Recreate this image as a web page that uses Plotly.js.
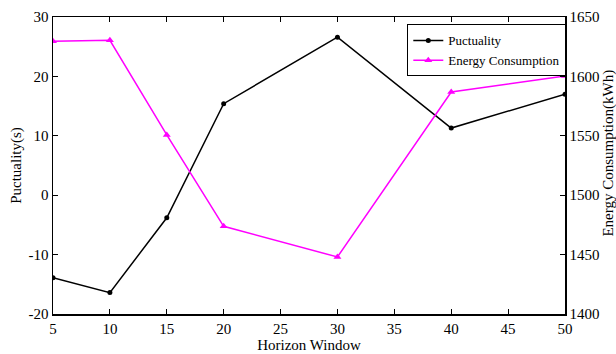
<!DOCTYPE html>
<html><head><meta charset="utf-8">
<script src="https://cdn.plot.ly/plotly-3.0.1.min.js"></script>
<style>body{margin:0;padding:0;background:#fff}#c{width:616px;height:354px}</style>
</head><body><div id="c"></div>
<script>
const horizon = [5, 10, 15, 20, 30, 40, 50];
const punctuality = [-13.9, -16.4, -3.8, 15.4, 26.6, 11.3, 17.0];
const energy = [1629.5, 1630.4, 1550.7, 1473.8, 1448.0, 1586.9, 1600.3];
const xTicks = [5, 10, 15, 20, 25, 30, 35, 40, 45, 50];
const yTicks = [-20, -10, 0, 10, 20, 30];
const y2Ticks = [1400, 1450, 1500, 1550, 1600, 1650];

const font = {family: '"Liberation Serif", "Times New Roman", serif', size: 15, color: '#000'};
const data = [
  {x: horizon, y: punctuality, name: 'Puctuality', type: 'scatter', mode: 'lines+markers',
   line: {color: '#000', width: 1.5}, marker: {symbol: 'circle', size: 5, color: '#000'}},
  {x: horizon, y: energy, name: 'Energy Consumption', type: 'scatter', mode: 'lines+markers', yaxis: 'y2',
   line: {color: '#ff00ff', width: 1.5}, marker: {symbol: 'triangle-up', size: 7, color: '#ff00ff'}}
];
const layout = {
  width: 616, height: 354,
  margin: {l: 53, r: 51, t: 17, b: 40},
  paper_bgcolor: '#fff', plot_bgcolor: '#fff',
  font: font,
  showlegend: true,
  legend: {x: 0.692, y: 0.975, xanchor: 'left', yanchor: 'top', bgcolor: '#fff',
           bordercolor: '#000', borderwidth: 1, font: {family: font.family, size: 13, color: '#000'},
           tracegroupgap: 0, itemwidth: 30},
  xaxis: {range: [5, 50], tickvals: xTicks, ticktext: xTicks.map(String), ticks: 'inside', ticklen: 5,
          tickcolor: '#000', showline: true, linecolor: '#000', linewidth: 1.5, mirror: 'ticks',
          showgrid: false, zeroline: false,
          title: {text: 'Horizon Window', font: font, standoff: 2}},
  yaxis: {range: [-20, 30], tickvals: yTicks, ticktext: yTicks.map(String), ticks: 'inside', ticklen: 5,
          tickcolor: '#000', showline: true, linecolor: '#000', linewidth: 1.5,
          showgrid: false, zeroline: false,
          title: {text: 'Puctuality(s)', font: font, standoff: 3}},
  yaxis2: {range: [1400, 1650], tickvals: y2Ticks, ticktext: y2Ticks.map(String), overlaying: 'y', side: 'right',
           ticks: 'inside', ticklen: 5, tickcolor: '#000', showline: true, linecolor: '#000', linewidth: 1.5,
           showgrid: false, zeroline: false},
  annotations: [
    {text: 'Energy Consumption(kWh)', xref: 'paper', yref: 'paper', x: 1, y: 0.54, xanchor: 'center', yanchor: 'middle',
     xshift: 44, textangle: -90, showarrow: false, font: font}
  ]
};
Plotly.newPlot('c', data, layout, {displayModeBar: false, staticPlot: true});
</script>
</body></html>
